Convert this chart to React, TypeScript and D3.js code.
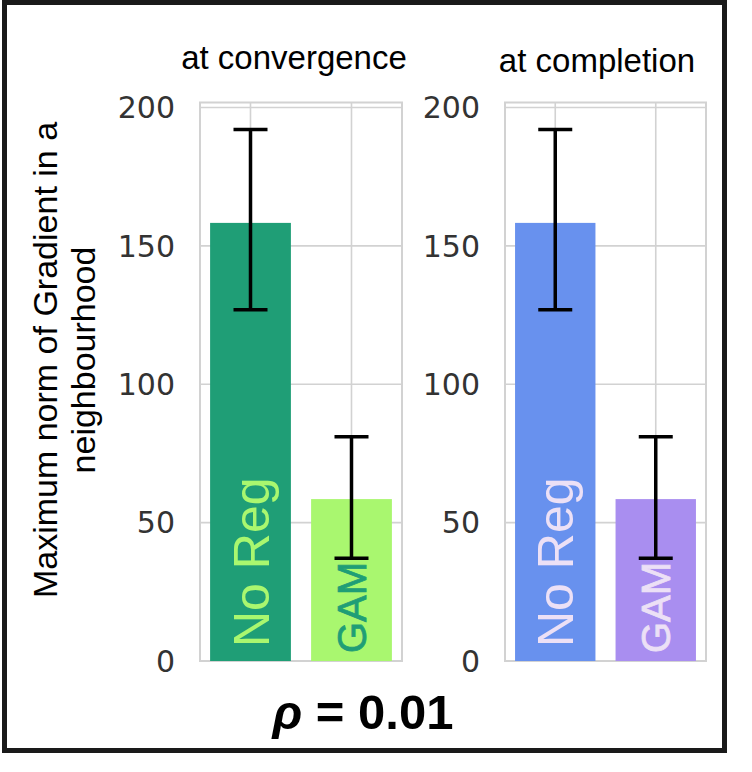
import * as d3 from 'd3';
import React from 'react';

const categories = ['No Reg', 'GAM'];
const panelTitles = ['at convergence', 'at completion'];
const convergenceMeans = [158.3, 58.5];
const convergenceLow = [126.9, 37.1];
const convergenceHigh = [192.0, 81.0];
const completionMeans = [158.3, 58.5];
const completionLow = [126.9, 37.1];
const completionHigh = [192.0, 81.0];
const yTicks = [0, 50, 100, 150, 200];
const yLabelLines = ['Maximum norm of Gradient in a', 'neighbourhood'];
const footer = '0.01';

const panels = [
  {
    title: panelTitles[0], means: convergenceMeans, low: convergenceLow, high: convergenceHigh,
    left: 200, right: 402, titleX: 294, titleY: 69,
    fills: ['#1f9e76', '#a9f76f'], textFills: ['#a9f76f', '#1f9e76'],
  },
  {
    title: panelTitles[1], means: completionMeans, low: completionLow, high: completionHigh,
    left: 505, right: 706, titleX: 597, titleY: 72,
    fills: ['#6891ee', '#a98ef0'], textFills: ['#ece0f6', '#ece0f6'],
  },
];

const top = 102.5;
const bottom = 661;
const gridColor = '#d2d2d2';
const sans = 'Liberation Sans, Arial, sans-serif';

const Panel = ({ p }) => {
  const y = d3.scaleLinear().domain([0, 201.8]).range([bottom, top]);
  const x = d3.scaleBand().domain(categories).range([p.left, p.right]).paddingInner(0.2).paddingOuter(0.1);
  const bw = x.bandwidth();

  return (
    <g>
      <text x={p.titleX} y={p.titleY} textAnchor="middle" fontFamily={sans} fontSize={33} fill="#000">
        {p.title}
      </text>
      {/* grid */}
      {yTicks.map(t => (
        <line key={'gy' + t} x1={p.left} x2={p.right} y1={y(t)} y2={y(t)} stroke={gridColor} strokeWidth={1.6} />
      ))}
      {categories.map(c => (
        <line key={'gx' + c} x1={x(c) + bw / 2} x2={x(c) + bw / 2} y1={top} y2={bottom} stroke={gridColor} strokeWidth={1.6} />
      ))}
      <rect x={p.left} y={top} width={p.right - p.left} height={bottom - top} fill="none" stroke={gridColor} strokeWidth={2} />
      {/* tick labels */}
      {yTicks.map(t => (
        <text key={'yl' + t} x={p.left - 25} y={y(t)} dy="0.36em" textAnchor="end"
          fontFamily="DejaVu Sans" fontSize={30} fill="#333">{t}</text>
      ))}
      {/* bars */}
      {categories.map((c, i) => (
        <rect key={'b' + c} x={x(c)} y={y(p.means[i])} width={bw} height={y(0) - y(p.means[i])} fill={p.fills[i]} />
      ))}
      {/* bar labels */}
      {categories.map((c, i) => {
        const cx = x(c) + bw / 2;
        const size = i === 0 ? 50 : 40;
        const by = i === 0 ? bottom - 14 : bottom - 8;
        return (
          <text key={'bl' + c} transform={`translate(${cx + size * 0.36},${by}) rotate(-90)`}
            fontFamily={sans} fontSize={size} fill={p.textFills[i]}
            stroke={i === 1 ? p.textFills[i] : 'none'} strokeWidth={i === 1 ? 0.8 : 0}>{c}</text>
        );
      })}
      {/* error bars */}
      {categories.map((c, i) => {
        const cx = x(c) + bw / 2;
        return (
          <g key={'e' + c} stroke="#000" strokeWidth={3.5}>
            <line x1={cx} x2={cx} y1={y(p.low[i])} y2={y(p.high[i])} />
            <line x1={cx - 17} x2={cx + 17} y1={y(p.low[i])} y2={y(p.low[i])} />
            <line x1={cx - 17} x2={cx + 17} y1={y(p.high[i])} y2={y(p.high[i])} />
          </g>
        );
      })}
    </g>
  );
};

export default function App() {
  return (
    <svg width={752} height={772} style={{ position: 'absolute', left: 0, top: 0 }}>
      <rect x={0} y={0} width={752} height={772} fill="#fff" />
      <rect x={4.5} y={2.5} width={720} height={748} fill="none" stroke="#1a1a1a" strokeWidth={5} />
      {yLabelLines.map((l, i) => (
        <text key={l} transform={`translate(${57 + i * 38},360) rotate(-90)`} textAnchor="middle"
          fontFamily={sans} fontSize={34} fill="#000">{l}</text>
      ))}
      {panels.map(p => <Panel key={p.title} p={p} />)}
      <text x={363} y={729} textAnchor="middle" fontFamily={sans} fontSize={49} fontWeight="bold" fill="#000">
        <tspan fontStyle="italic">ρ</tspan> = {footer}
      </text>
    </svg>
  );
}
